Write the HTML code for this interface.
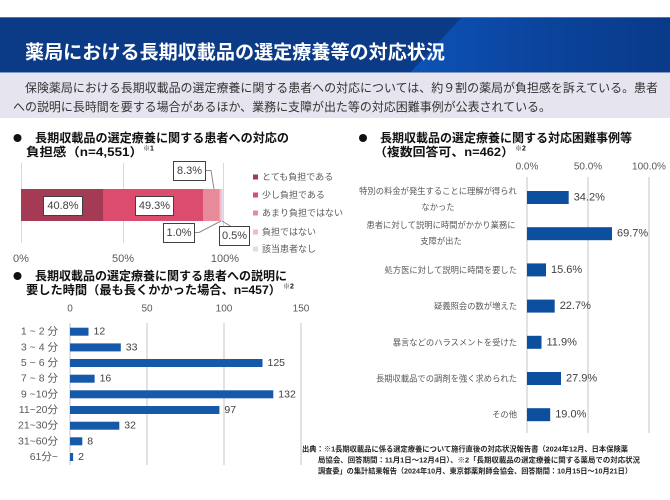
<!DOCTYPE html>
<html><head><meta charset="utf-8">
<style>
html,body{margin:0;padding:0;background:#fff;}
svg{display:block;}
text{font-family:"Liberation Sans","Noto Sans CJK JP",sans-serif;}
</style></head><body>
<svg width="670" height="500" viewBox="0 0 670 500" xmlns="http://www.w3.org/2000/svg">
<defs>
<linearGradient id="hg" x1="0" x2="1" y1="0" y2="0">
<stop offset="0" stop-color="#0d53b8"/>
<stop offset="0.45" stop-color="#0b459f"/>
<stop offset="1" stop-color="#0a3a89"/>
</linearGradient>
</defs>
<!-- header -->
<rect x="0" y="17" width="670" height="56" fill="#0b3a86"/>
<polygon points="462,17 670,17 670,73 410,73" fill="url(#hg)"/>
<line x1="0" y1="17.5" x2="670" y2="17.5" stroke="#4f74b8" stroke-width="1"/>
<line x1="0" y1="72.5" x2="670" y2="72.5" stroke="#8096c2" stroke-width="1"/>
<text x="25" y="53" dominant-baseline="central" fill="#fff" font-size="19" font-weight="700" textLength="420" lengthAdjust="spacingAndGlyphs">薬局における長期収載品の選定療養等の対応状況</text>
<rect x="0" y="73" width="670" height="45" fill="#e5e4ef"/>
<text x="25" y="88" dominant-baseline="central" fill="#333" font-size="12" textLength="633" lengthAdjust="spacingAndGlyphs">保険薬局における長期収載品の選定療養に関する患者への対応については、約９割の薬局が負担感を訴えている。患者</text>
<text x="13" y="107" dominant-baseline="central" fill="#333" font-size="12" textLength="538" lengthAdjust="spacingAndGlyphs">への説明に長時間を要する場合があるほか、業務に支障が出た等の対応困難事例が公表されている。</text>

<!-- section 1 heading -->
<circle cx="17.5" cy="138" r="4" fill="#111"/>
<text x="35" y="138" dominant-baseline="central" fill="#111" font-size="12" font-weight="700" textLength="254" lengthAdjust="spacingAndGlyphs">長期収載品の選定療養に関する患者への対応の</text>
<text x="26" y="152" dominant-baseline="central" fill="#111" font-size="12" font-weight="700" textLength="117" lengthAdjust="spacingAndGlyphs">負担感（n=4,551）</text>
<text x="143" y="149" dominant-baseline="central" fill="#111" font-size="7" font-weight="700">※1</text>

<!-- stacked chart -->
<g stroke="#d9d9d9" stroke-width="1">
<line x1="21.5" y1="163" x2="21.5" y2="243"/>
<line x1="123.5" y1="163" x2="123.5" y2="243"/>
<line x1="223.5" y1="163" x2="223.5" y2="243"/>
</g>
<rect x="21" y="189" width="82.4" height="32" fill="#a53a55"/>
<rect x="103.4" y="189" width="99.6" height="32" fill="#dc4c6e"/>
<rect x="203" y="189" width="16.8" height="32" fill="#e78b9b"/>
<rect x="219.8" y="189" width="2" height="32" fill="#f3b9c6"/>
<rect x="221.8" y="189" width="1.2" height="32" fill="#dcdcec"/>
<g stroke="#8c8c8c" stroke-width="1" fill="none">
<polyline points="205,170.5 211,170.5 214,189"/>
<polyline points="194,232.5 199,232.5 221,221"/>
<polyline points="222,221 232,227"/>
</g>
<g fill="#fff" stroke="#404040" stroke-width="1">
<rect x="43.5" y="196.5" width="39" height="19"/>
<rect x="135.5" y="196.5" width="38" height="19"/>
<rect x="173.5" y="161.5" width="32" height="19"/>
<rect x="163.5" y="223.5" width="31" height="19"/>
<rect x="219.5" y="226.5" width="30" height="19"/>
</g>
<g fill="#404040" font-size="11" text-anchor="middle" dominant-baseline="central">
<text x="63" y="206">40.8%</text>
<text x="154.5" y="206">49.3%</text>
<text x="189.5" y="171">8.3%</text>
<text x="179" y="233">1.0%</text>
<text x="234.5" y="236">0.5%</text>
</g>
<g fill="#595959" font-size="11" text-anchor="middle" dominant-baseline="central">
<text x="21" y="259">0%</text>
<text x="123" y="259">50%</text>
<text x="225" y="259">100%</text>
</g>
<!-- legend -->
<rect x="253" y="174.5" width="5" height="5" fill="#a53a55"/>
<rect x="253" y="192.5" width="5" height="5" fill="#dc4c6e"/>
<rect x="253" y="210.5" width="5" height="5" fill="#e78b9b"/>
<rect x="253" y="229.5" width="5" height="5" fill="#f3b9c6"/>
<rect x="253" y="246.5" width="5" height="5" fill="#dcdcec"/>
<g fill="#595959" font-size="9" dominant-baseline="central">
<text x="262" y="177">とても負担である</text>
<text x="262" y="195">少し負担である</text>
<text x="262" y="213">あまり負担ではない</text>
<text x="262" y="232">負担ではない</text>
<text x="262" y="249">該当患者なし</text>
</g>

<!-- section 2 heading -->
<circle cx="17.5" cy="276" r="4" fill="#111"/>
<text x="35" y="276" dominant-baseline="central" fill="#111" font-size="12" font-weight="700">長期収載品の選定療養に関する患者への説明に</text>
<text x="26" y="290" dominant-baseline="central" fill="#111" font-size="12" font-weight="700" textLength="255" lengthAdjust="spacingAndGlyphs">要した時間（最も長くかかった場合、n=457）</text>
<text x="283" y="287" dominant-baseline="central" fill="#111" font-size="7" font-weight="700">※2</text>

<!-- chart 2 -->
<g fill="#595959" font-size="10" text-anchor="middle" dominant-baseline="central">
<text x="70" y="309">0</text>
<text x="147" y="309">50</text>
<text x="224" y="309">100</text>
<text x="301" y="309">150</text>
</g>
<g stroke="#d9d9d9" stroke-width="1.5">
<line x1="70" y1="323" x2="70" y2="465"/>
<line x1="147" y1="323" x2="147" y2="465"/>
<line x1="224" y1="323" x2="224" y2="465"/>
<line x1="301" y1="323" x2="301" y2="465"/>
</g>
<g fill="#1559a9">
<rect x="70" y="327.7" width="18.5" height="8"/>
<rect x="70" y="343.4" width="50.8" height="8"/>
<rect x="70" y="359" width="192.5" height="8"/>
<rect x="70" y="374.7" width="24.6" height="8"/>
<rect x="70" y="390.3" width="203.3" height="8"/>
<rect x="70" y="406" width="149.4" height="8"/>
<rect x="70" y="421.7" width="49.3" height="8"/>
<rect x="70" y="437.3" width="12.3" height="8"/>
<rect x="70" y="453" width="3.1" height="8"/>
</g>
<g fill="#404040" font-size="10.5" dominant-baseline="central">
<text x="93.5" y="331.7">12</text>
<text x="125.8" y="347.4">33</text>
<text x="267.5" y="363">125</text>
<text x="99.6" y="378.7">16</text>
<text x="278.3" y="394.3">132</text>
<text x="224.4" y="410">97</text>
<text x="124.3" y="425.7">32</text>
<text x="87.3" y="441.3">8</text>
<text x="78.1" y="457">2</text>
</g>
<g fill="#595959" font-size="10.5" text-anchor="end" dominant-baseline="central">
<text x="58" y="331.7">1 ~ 2 分</text>
<text x="58" y="347.4">3 ~ 4 分</text>
<text x="58" y="363">5 ~ 6 分</text>
<text x="58" y="378.7">7 ~ 8 分</text>
<text x="58" y="394.3">9 ~10分</text>
<text x="58" y="410">11~20分</text>
<text x="58" y="425.7">21~30分</text>
<text x="58" y="441.3">31~60分</text>
<text x="58" y="457">61分~</text>
</g>

<!-- section 3 heading -->
<circle cx="363" cy="138" r="4" fill="#111"/>
<text x="380" y="138" dominant-baseline="central" fill="#111" font-size="12" font-weight="700">長期収載品の選定療養に関する対応困難事例等</text>
<text x="374" y="152" dominant-baseline="central" fill="#111" font-size="12" font-weight="700" textLength="140" lengthAdjust="spacingAndGlyphs">（複数回答可、n=462）</text>
<text x="515" y="149" dominant-baseline="central" fill="#111" font-size="7" font-weight="700">※2</text>

<!-- chart 3 -->
<g fill="#595959" font-size="10" text-anchor="middle" dominant-baseline="central">
<text x="527" y="167">0.0%</text>
<text x="588" y="167">50.0%</text>
<text x="649" y="167">100.0%</text>
</g>
<g stroke="#d9d9d9" stroke-width="1.5">
<line x1="527" y1="177" x2="527" y2="433"/>
<line x1="588" y1="177" x2="588" y2="433"/>
<line x1="649" y1="177" x2="649" y2="433"/>
</g>
<g fill="#0d4f9f">
<rect x="527" y="191" width="41.7" height="13"/>
<rect x="527" y="227.2" width="85" height="13"/>
<rect x="527" y="263.4" width="19" height="13"/>
<rect x="527" y="299.6" width="27.7" height="13"/>
<rect x="527" y="335.8" width="14.5" height="13"/>
<rect x="527" y="372" width="34" height="13"/>
<rect x="527" y="408.2" width="23.2" height="13"/>
</g>
<g fill="#404040" font-size="11" dominant-baseline="central">
<text x="573.7" y="197.5">34.2%</text>
<text x="617" y="233.7">69.7%</text>
<text x="551" y="269.9">15.6%</text>
<text x="559.7" y="306.1">22.7%</text>
<text x="546.5" y="342.3">11.9%</text>
<text x="566" y="378.5">27.9%</text>
<text x="555.2" y="414.7">19.0%</text>
</g>
<g fill="#595959" font-size="8.3" dominant-baseline="central">
<text x="438" y="191" text-anchor="middle">特別の料金が発生することに理解が得られ</text>
<text x="438" y="207" text-anchor="middle">なかった</text>
<text x="441" y="225" text-anchor="middle">患者に対して説明に時間がかかり業務に</text>
<text x="441" y="241" text-anchor="middle">支障が出た</text>
<text x="517" y="269.9" text-anchor="end">処方医に対して説明に時間を要した</text>
<text x="517" y="306.1" text-anchor="end">疑義照会の数が増えた</text>
<text x="517" y="342.3" text-anchor="end">暴言などのハラスメントを受けた</text>
<text x="517" y="378.5" text-anchor="end">長期収載品での調剤を強く求められた</text>
<text x="517" y="414.7" text-anchor="end">その他</text>
</g>

<!-- footnote -->
<g fill="#262626" font-size="7.3" font-weight="700" dominant-baseline="central">
<text x="302" y="449" textLength="326" lengthAdjust="spacingAndGlyphs">出典：※1長期収載品に係る選定療養について施行直後の対応状況報告書（2024年12月、日本保険薬</text>
<text x="318" y="460" textLength="322" lengthAdjust="spacingAndGlyphs">局協会、回答期間：11月1日～12月4日）、※2「長期収載品の選定療養に関する薬局での対応状況</text>
<text x="318" y="471" textLength="314" lengthAdjust="spacingAndGlyphs">調査委」の集計結果報告（2024年10月、東京都薬剤師会協会、回答期間：10月15日～10月21日）</text>
</g>
</svg>
</body></html>
